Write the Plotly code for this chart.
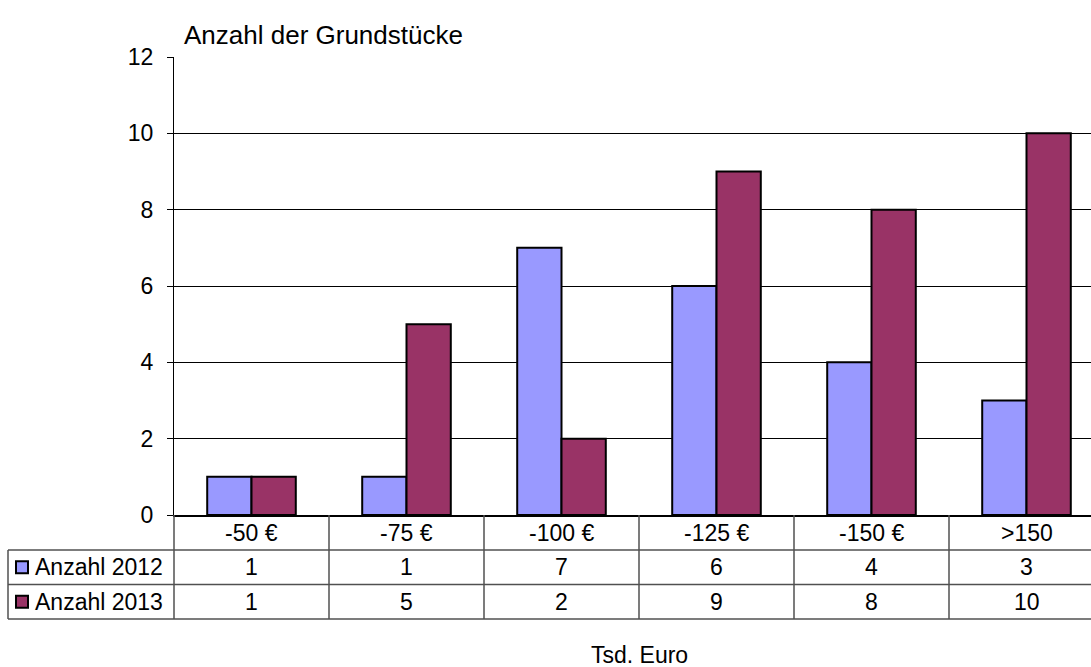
import plotly.graph_objects as go

categories = ["-50 €", "-75 €", "-100 €", "-125 €", "-150 €", ">150"]
series_names = ["Anzahl 2012", "Anzahl 2013"]
values_2012 = [1, 1, 7, 6, 4, 3]
values_2013 = [1, 5, 2, 9, 8, 10]
y_ticks = [0, 2, 4, 6, 8, 10, 12]
colors = ["#9999FF", "#993366"]
y_title = "Anzahl der Grundstücke"
x_title = "Tsd. Euro"

FONT = "Liberation Sans, Arial, sans-serif"
W, H = 1091, 667
L, T, B = 174, 57, 152
plot_w = W - L
plot_h = H - T - B
cat_w = 155.0
x_idx = list(range(len(categories)))
x_right = -0.5 + plot_w / cat_w


def py(p):  # pixel y -> paper y
    return (H - B - p) / plot_h


def px(p):  # pixel x -> paper x
    return (p - L) / plot_w


fig = go.Figure()
for name, vals, col in zip(series_names, [values_2012, values_2013], colors):
    fig.add_trace(go.Bar(
        x=x_idx, y=vals, name=name,
        marker=dict(color=col, line=dict(color="black", width=2)),
        showlegend=False,
    ))

shapes = []
annotations = []
line_col = "#505050"
row_y = [515, 550, 584.5, 619]

# horizontal table lines
for ry in row_y[1:]:
    shapes.append(dict(type="line", xref="paper", yref="paper",
                       x0=px(8), x1=1, y0=py(ry), y1=py(ry),
                       line=dict(color=line_col, width=1.5)))
# left border of row header
shapes.append(dict(type="line", xref="paper", yref="paper",
                   x0=px(8), x1=px(8), y0=py(row_y[1]), y1=py(row_y[3]),
                   line=dict(color=line_col, width=1.5)))
# axis continuation
shapes.append(dict(type="line", xref="paper", yref="paper",
                   x0=0, x1=0, y0=py(row_y[0]), y1=py(row_y[3]),
                   line=dict(color=line_col, width=1.5)))
# category separators
for i in range(1, len(categories)):
    shapes.append(dict(type="line", xref="x", yref="paper",
                       x0=i - 0.5, x1=i - 0.5, y0=py(row_y[0]), y1=py(row_y[3]),
                       line=dict(color=line_col, width=1.5)))

# category labels
for i, c in enumerate(categories):
    annotations.append(dict(x=i, y=py((row_y[0] + row_y[1]) / 2), xref="x", yref="paper",
                            text=c, showarrow=False, xanchor="center", yanchor="middle",
                            font=dict(family=FONT, size=23, color="black")))
# values rows
for r, (name, vals, col) in enumerate(zip(series_names, [values_2012, values_2013], colors)):
    yc = (row_y[r + 1] + row_y[r + 2]) / 2
    for i, v in enumerate(vals):
        annotations.append(dict(x=i, y=py(yc), xref="x", yref="paper",
                                text=str(v), showarrow=False, xanchor="center", yanchor="middle",
                                font=dict(family=FONT, size=23, color="black")))
    annotations.append(dict(x=px(33), y=py(yc), xref="paper", yref="paper",
                            text=name, showarrow=False, xanchor="left", yanchor="middle",
                            font=dict(family=FONT, size=23, color="black")))
    shapes.append(dict(type="rect", xref="paper", yref="paper",
                       x0=px(16), x1=px(28), y0=py(yc - 6), y1=py(yc + 6),
                       fillcolor=col, line=dict(color="black", width=2)))

annotations.append(dict(x=px(182), y=py(35), xref="paper", yref="paper",
                        text=y_title, showarrow=False, xanchor="left", yanchor="middle",
                        font=dict(family=FONT, size=26, color="black")))
annotations.append(dict(x=px(639), y=py(655), xref="paper", yref="paper",
                        text=x_title, showarrow=False, xanchor="center", yanchor="middle",
                        font=dict(family=FONT, size=23, color="black")))

fig.update_layout(
    width=W, height=H,
    margin=dict(l=L, r=0, t=T, b=B, pad=0),
    paper_bgcolor="white", plot_bgcolor="white",
    barmode="group", bargap=1.5 / 3.5, bargroupgap=0,
    shapes=shapes, annotations=annotations,
    font=dict(family=FONT, color="black"),
    xaxis=dict(range=[-0.5, x_right], showticklabels=False, ticks="",
               showgrid=False, zeroline=False, showline=True,
               linecolor="black", linewidth=1.5, fixedrange=True),
    yaxis=dict(range=[0, 12], tickvals=y_ticks, ticks="outside", ticklen=6,
               tickcolor="black", tickwidth=1, showline=True, linecolor="black",
               linewidth=1, showgrid=True, gridcolor="black", gridwidth=1,
               zeroline=False, ticklabelstandoff=9,
               tickfont=dict(family=FONT, size=23, color="black")),
)

fig.write_html("out.html",
               config={"displayModeBar": False, "staticPlot": True},
               post_script="document.body.style.margin='0';document.body.style.overflow='hidden';")
